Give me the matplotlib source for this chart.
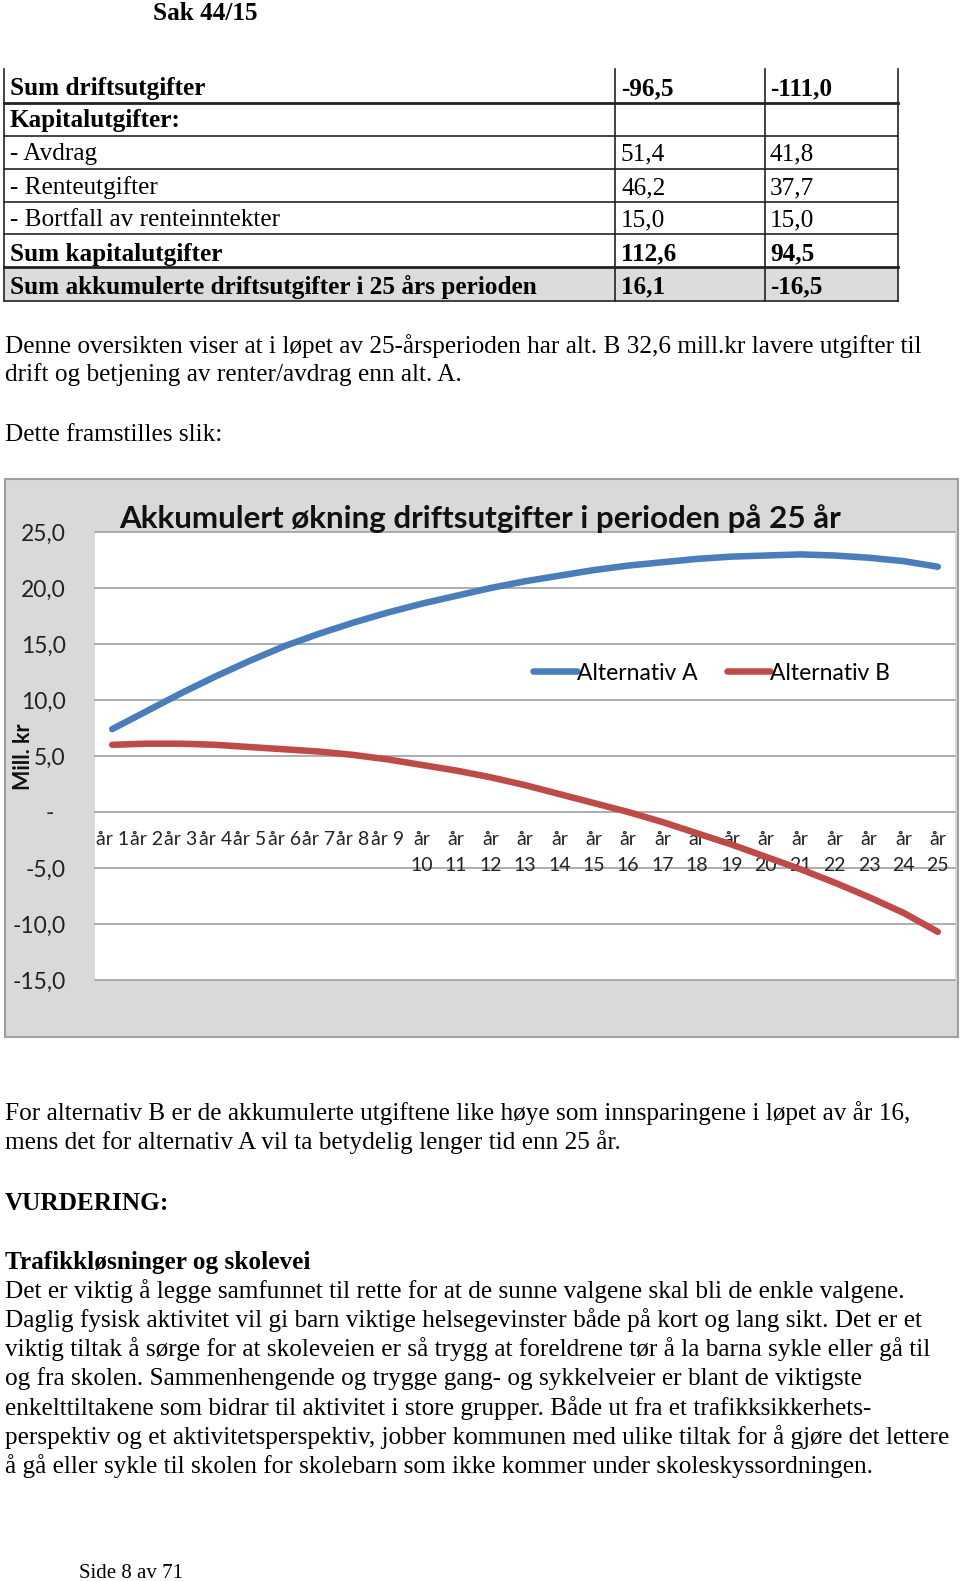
import matplotlib
matplotlib.use("Agg")
import matplotlib.pyplot as plt
from matplotlib.patches import Rectangle
from matplotlib.lines import Line2D

W, H = 960, 1581

# ---- data ----
years = [f"år {i}" for i in range(1, 10)] + [f"år\n{i}" for i in range(10, 26)]
alt_a = [7.4, 9.0, 10.6, 12.1, 13.5, 14.8, 15.9, 16.9, 17.8, 18.6, 19.3, 20.0, 20.6,
         21.1, 21.6, 22.0, 22.3, 22.6, 22.8, 22.9, 23.0, 22.9, 22.7, 22.4, 21.9]
alt_b = [6.0, 6.1, 6.1, 6.0, 5.8, 5.6, 5.4, 5.1, 4.7, 4.2, 3.7, 3.1, 2.4,
         1.6, 0.8, 0.0, -0.9, -1.9, -2.9, -4.0, -5.1, -6.3, -7.6, -9.0, -10.7]
y_ticks = [25, 20, 15, 10, 5, 0, -5, -10, -15]
y_ticklabels = ["25,0", "20,0", "15,0", "10,0", "5,0", "-  ", "-5,0", "-10,0", "-15,0"]

table_labels = ["Sum driftsutgifter", "Kapitalutgifter:", "- Avdrag", "- Renteutgifter",
                "- Bortfall av renteinntekter", "Sum kapitalutgifter",
                "Sum akkumulerte driftsutgifter i 25 års perioden"]
table_a = ["-96,5", "", "51,4", "46,2", "15,0", "112,6", "16,1"]
table_b = ["-111,0", "", "41,8", "37,7", "15,0", "94,5", "-16,5"]
table_bold = [True, True, False, False, False, True, True]

text_top = ["Denne oversikten viser at i løpet av 25-årsperioden har alt. B 32,6 mill.kr lavere utgifter til",
            "drift og betjening av renter/avdrag enn alt. A."]
text_mid = ["For alternativ B er de akkumulerte utgiftene like høye som innsparingene i løpet av år 16,",
            "mens det for alternativ A vil ta betydelig lenger tid enn 25 år."]
text_body = ["Det er viktig å legge samfunnet til rette for at de sunne valgene skal bli de enkle valgene.",
             "Daglig fysisk aktivitet vil gi barn viktige helsegevinster både på kort og lang sikt. Det er et",
             "viktig tiltak å sørge for at skoleveien er så trygg at foreldrene tør å la barna sykle eller gå til",
             "og fra skolen. Sammenhengende og trygge gang- og sykkelveier er blant de viktigste",
             "enkelttiltakene som bidrar til aktivitet i store grupper. Både ut fra et trafikksikkerhets-",
             "perspektiv og et aktivitetsperspektiv, jobber kommunen med ulike tiltak for å gjøre det lettere",
             "å gå eller sykle til skolen for skolebarn som ikke kommer under skoleskyssordningen."]

SERIF = "Liberation Serif"
SANS = "Lato"
BLUE = "#4a7ebb"
RED = "#be4b48"
BODY = 18.2


def fx(x):
    return x / W


def fy(y):
    return 1 - y / H


fig = plt.figure(figsize=(W / 100, H / 100), dpi=100)
fig.patch.set_facecolor("white")


def put(x, y, s, size=BODY, bold=False, **kw):
    fig.text(fx(x), fy(y), s, family=SERIF, fontsize=size,
             weight="bold" if bold else "normal", va="center", **kw)


def hline(x0, x1, y, lw=1.2, color="#222222"):
    fig.add_artist(Line2D([fx(x0), fx(x1)], [fy(y), fy(y)], transform=fig.transFigure,
                          color=color, lw=lw))


def vline(x, y0, y1, lw=1.2, color="#222222"):
    fig.add_artist(Line2D([fx(x), fx(x)], [fy(y0), fy(y1)], transform=fig.transFigure,
                          color=color, lw=lw))


# ---- page header ----
put(153, 13, "Sak 44/15", bold=True)

# ---- table ----
row_y = [89, 121, 154, 188, 220, 254, 287]
row_lines = [103, 136, 169, 202, 234, 267, 301]
fig.add_artist(Rectangle((fx(4), fy(301)), fx(898) - fx(4), fy(267) - fy(301),
                         transform=fig.transFigure, facecolor="#dcdcdc", edgecolor="none"))
for lab, a, b, bold, yc in zip(table_labels, table_a, table_b, table_bold, row_y):
    put(10, yc, lab, bold=bold)
    put(621, yc, a, bold=bold)
    put(770, yc, b, bold=bold)
for i, yl in enumerate(row_lines):
    hline(4, 898, yl, lw=2.0 if i in (0, 5) else 1.2)
for xv in (4, 615, 765, 898):
    vline(xv, 69, 301)

for i, line in enumerate(text_top):
    put(5, 346 + 29 * i, line)
put(5, 435, "Dette framstilles slik:")

# ---- chart ----
fig.add_artist(Rectangle((fx(5), fy(1037)), fx(958) - fx(5), fy(479) - fy(1037),
                         transform=fig.transFigure, facecolor="#d9d9d9",
                         edgecolor="#a0a0a0", lw=1.5, zorder=-1))
ax = fig.add_axes([fx(95), fy(980), fx(955) - fx(95), fy(532) - fy(980)])
ax.set_facecolor("white")
x = list(range(len(years)))
for v in y_ticks:
    ax.axhline(v, color="#a0a0a0", lw=1.2, zorder=0, clip_on=False)
ax.plot(x, alt_a, color=BLUE, lw=4.7, solid_capstyle="round", label="Alternativ A", zorder=3)
ax.plot(x, alt_b, color=RED, lw=4.7, solid_capstyle="round", label="Alternativ B", zorder=3)
ax.set_xlim(-0.5, len(years) - 0.5)
ax.set_ylim(-15, 25)
for s in ax.spines.values():
    s.set_visible(False)
ax.spines["bottom"].set_position(("data", 0))
ax.set_xticks(x)
ax.set_xticklabels(years, family=SANS, fontsize=14, color="#222222", linespacing=1.6)
ax.set_yticks(y_ticks)
ax.set_yticklabels(y_ticklabels, family=SANS, fontsize=16.5, color="#222222")
ax.tick_params(axis="x", length=0, pad=14)
ax.tick_params(axis="y", length=0, pad=21)

ax.legend(loc="center left", bbox_to_anchor=(fx(533), fy(673)), bbox_transform=fig.transFigure,
          ncol=2, frameon=False, handlelength=1.9, handletextpad=0.0, columnspacing=1.3,
          borderpad=0, borderaxespad=0, prop={"family": SANS, "size": 16.5})

fig.text(fx(119), fy(519), "Akkumulert økning driftsutgifter i perioden på 25 år",
         family=SANS, weight="bold", fontsize=22.6, va="center", ha="left", color="#111111")
fig.text(fx(24), fy(757), "Mill. kr", family=SANS, weight="bold", fontsize=15.5,
         rotation=90, va="center", ha="center", color="#111111")

# ---- text below chart ----
for i, line in enumerate(text_mid):
    put(5, 1113 + 29.5 * i, line)
put(5, 1203, "VURDERING:", bold=True)
put(5, 1262, "Trafikkløsninger og skolevei", bold=True)
for i, line in enumerate(text_body):
    put(5, 1291 + 29.2 * i, line)
put(79, 1574, "Side 8 av 71", size=15)

fig.savefig("out.png", dpi=100, facecolor="white")
